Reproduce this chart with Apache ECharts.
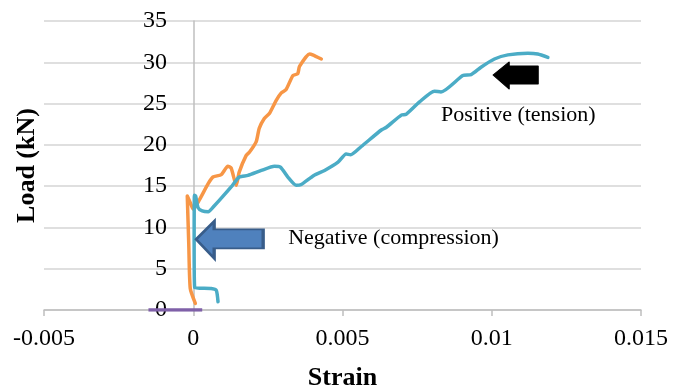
<!DOCTYPE html>
<html>
<head>
<meta charset="utf-8">
<script src="https://cdn.jsdelivr.net/npm/echarts@6/dist/echarts.min.js"></script>
<style>
  html, body { margin: 0; padding: 0; background: #fff; }
  #chart { width: 674px; height: 390px; }
</style>
</head>
<body>
<div id="chart"></div>
<script>
// strain / load pairs
var tealStrain = [0.00083, 0.00077, 0.0006, 0.00005, 0.00003, 0.00004, 0.00008, 0.00016, 0.0003, 0.0005, 0.0007, 0.00088, 0.00127, 0.00154, 0.00183, 0.00228, 0.00272, 0.00292, 0.00317, 0.00345, 0.00362, 0.00404, 0.0044, 0.00485, 0.00512, 0.00527, 0.00563, 0.0063, 0.00646, 0.00697, 0.00713, 0.00758, 0.00808, 0.0083, 0.00903, 0.00931, 0.00964, 0.01009, 0.01054, 0.01121, 0.01154, 0.01188]
var tealLoad = [1.0, 2.4, 2.6, 2.7, 8.0, 13.9, 13.8, 12.4, 12.0, 11.9, 12.6, 13.3, 14.9, 16.1, 16.3, 16.9, 17.4, 17.3, 16.1, 15.1, 15.2, 16.3, 16.9, 17.9, 18.9, 18.8, 19.8, 21.8, 22.1, 23.6, 23.7, 25.2, 26.5, 26.4, 28.4, 28.5, 29.4, 30.4, 30.9, 31.1, 31.0, 30.6]

var orangeStrain = [0.00007, -0.0001, -0.00015, -0.0002, -0.0001, 0.0, 0.0002, 0.0005, 0.00066, 0.00094, 0.00116, 0.00127, 0.00144, 0.00154, 0.00177, 0.00188, 0.00211, 0.00221, 0.00238, 0.00255, 0.00278, 0.00295, 0.00311, 0.00334, 0.0035, 0.00356, 0.0039, 0.004, 0.00429]
var orangeLoad = [0.8, 2.6, 8.0, 13.8, 13.0, 12.2, 13.3, 15.3, 16.1, 16.4, 17.4, 17.2, 15.1, 16.7, 18.7, 19.1, 20.4, 22.0, 23.2, 23.8, 25.4, 26.3, 26.7, 28.4, 28.6, 29.5, 31.0, 30.9, 30.4]

var purpleStrain = [-0.0015, 0.0003]
var purpleLoad = [0, 0]

var xTicks = { min: -0.005, max: 0.015, interval: 0.005 }
var yTicks = { min: 0, max: 35, interval: 5 }

function pairs (xs, ys) {
  return xs.map(function (x, i) { return [x, ys[i]] })
}

var serif = 'Liberation Serif, Times New Roman, serif'
var chart = echarts.init(document.getElementById('chart'))

chart.setOption({
  animation: false,
  backgroundColor: '#fff',
  grid: { left: 44, right: 33, top: 21, bottom: 80, containLabel: false, outerBoundsMode: 'none' },
  xAxis: {
    type: 'value',
    min: xTicks.min,
    max: xTicks.max,
    interval: xTicks.interval,
    name: 'Strain',
    nameLocation: 'middle',
    nameGap: 55,
    nameTextStyle: { fontFamily: serif, fontSize: 26, fontWeight: 'bold', color: '#000' },
    axisLine: { lineStyle: { color: '#bfbfbf', width: 1.5 } },
    axisTick: { show: true, length: 6, lineStyle: { color: '#bfbfbf', width: 1.5 } },
    axisLabel: {
      margin: 17,
      fontFamily: serif,
      fontSize: 24,
      color: '#000',
      formatter: function (v) { return String(Math.round(v * 1000) / 1000) }
    },
    splitLine: { show: false }
  },
  yAxis: {
    type: 'value',
    min: yTicks.min,
    max: yTicks.max,
    interval: yTicks.interval,
    name: 'Load (kN)',
    nameLocation: 'middle',
    nameGap: 4,
    nameTextStyle: { fontFamily: serif, fontSize: 26, fontWeight: 'bold', color: '#000' },
    axisLine: { onZero: true, lineStyle: { color: '#bfbfbf', width: 1.5 } },
    axisTick: { show: false },
    // labels sit just left of the zero line, like the original
    axisLabel: { margin: -123, fontFamily: serif, fontSize: 24, color: '#000' },
    splitLine: { lineStyle: { color: '#d4d4d4', width: 1.5 } }
  },
  series: [
    {
      name: 'teal',
      type: 'line',
      data: pairs(tealStrain, tealLoad),
      showSymbol: false,
      smooth: 0.2,
      lineStyle: { color: '#4BACC6', width: 3.5, cap: 'round', join: 'round' },
      itemStyle: { color: '#4BACC6' },
      z: 3
    },
    {
      name: 'orange',
      type: 'line',
      data: pairs(orangeStrain, orangeLoad),
      showSymbol: false,
      smooth: 0.2,
      lineStyle: { color: '#F79646', width: 3.5, cap: 'round', join: 'round' },
      itemStyle: { color: '#F79646' },
      z: 2
    },
    {
      name: 'purple',
      type: 'line',
      data: pairs(purpleStrain, purpleLoad),
      showSymbol: false,
      lineStyle: { color: '#7F60A8', width: 3.5 },
      itemStyle: { color: '#7F60A8' },
      z: 4,
      markPoint: {
        silent: true,
        data: [
          {
            coord: [0.00122, 8.5],
            symbol: 'path://M0,18 L18,0 L18,8 L67,8 L67,27 L18,27 L18,37 Z',
            symbolSize: [67, 37],
            itemStyle: { color: '#4F81BD', borderColor: '#385D8A', borderWidth: 2.5 },
            label: { show: false }
          },
          {
            coord: [0.0108, 28.4],
            symbol: 'path://M0,13 L16,0 L16,4 L45,4 L45,22 L16,22 L16,27 Z',
            symbolSize: [45, 27],
            itemStyle: { color: '#000', borderColor: '#000', borderWidth: 1, borderJoin: 'round' },
            label: { show: false }
          },
          {
            coord: [0.00318, 8.7],
            symbol: 'circle',
            symbolSize: 0,
            label: {
              show: true,
              position: 'right',
              distance: 0,
              formatter: 'Negative (compression)',
              fontFamily: serif,
              fontSize: 22,
              color: '#000'
            }
          },
          {
            coord: [0.0083, 23.6],
            symbol: 'circle',
            symbolSize: 0,
            label: {
              show: true,
              position: 'right',
              distance: 0,
              formatter: 'Positive (tension)',
              fontFamily: serif,
              fontSize: 22,
              color: '#000'
            }
          }
        ]
      }
    }
  ]
})
</script>
</body>
</html>
